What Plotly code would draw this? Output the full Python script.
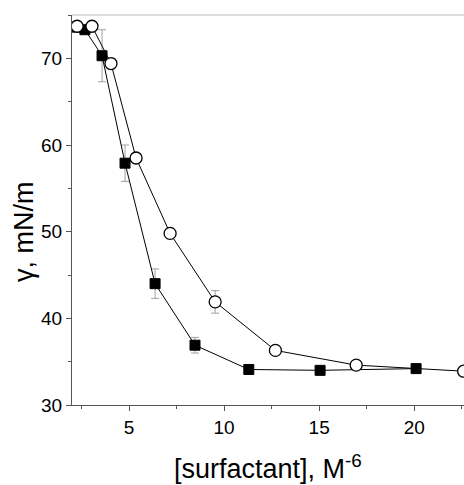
import plotly.graph_objects as go

# Filled squares series
sq_x = [2.16, 2.68, 3.58, 4.79, 6.37, 8.47, 11.3, 15.05, 20.1]
sq_y = [73.6, 73.3, 70.3, 57.9, 44.0, 36.9, 34.1, 34.0, 34.2]
sq_err = [0.3, 0.3, 3.0, 2.1, 1.7, 0.9, 0.3, 0.3, 0.3]

# Open circles series
ci_x = [2.27, 3.05, 4.05, 5.37, 7.16, 9.53, 12.7, 16.95, 22.6]
ci_y = [73.7, 73.7, 69.4, 58.5, 49.8, 41.9, 36.3, 34.6, 33.9]
ci_err = [0.4, 0.3, 0.6, 0.3, 0.6, 1.3, 0.3, 0.4, 0.4]

x_ticks = [5, 10, 15, 20]
y_ticks = [30, 40, 50, 60, 70]

FONT = "Liberation Sans, Arial, sans-serif"

fig = go.Figure()
fig.add_trace(go.Scatter(
    x=sq_x, y=sq_y, mode="lines+markers",
    line=dict(color="black", width=1),
    marker=dict(symbol="square", size=10, color="black", line=dict(color="black", width=1)),
    error_y=dict(type="data", array=sq_err, color="#a0a0a0", thickness=1, width=4),
    cliponaxis=True, showlegend=False,
))
fig.add_trace(go.Scatter(
    x=ci_x, y=ci_y, mode="lines+markers",
    line=dict(color="black", width=1),
    marker=dict(symbol="circle", size=12, color="white", line=dict(color="black", width=1.3)),
    error_y=dict(type="data", array=ci_err, color="#a0a0a0", thickness=1, width=4),
    cliponaxis=True, showlegend=False,
))

fig.update_xaxes(
    range=[2.0, 22.62], tickvals=x_ticks, ticks="outside", ticklen=5, tickwidth=1,
    tickcolor="#555", showline=True, linecolor="#555", linewidth=1, showgrid=False,
    zeroline=False, tickfont=dict(family=FONT, size=19, color="black"),
    minor=dict(dtick=2.5, tick0=0, ticks="outside", ticklen=3, tickcolor="#555"),
    mirror=False,
)
fig.update_yaxes(
    range=[30, 75], tickvals=y_ticks, ticks="outside", ticklen=5, tickwidth=1,
    tickcolor="#555", showline=True, linecolor="#555", linewidth=1, showgrid=False,
    zeroline=False, tickfont=dict(family=FONT, size=19, color="black"),
    minor=dict(dtick=5, tick0=0, ticks="outside", ticklen=3, tickcolor="#555"),
)

# top border line
fig.add_shape(type="line", xref="paper", yref="paper", x0=0, x1=1, y0=1, y1=1,
              line=dict(color="#d0d0d0", width=1.5))

fig.add_annotation(text="[surfactant], M<sup>-6</sup>", xref="paper", yref="paper",
                   x=0.5, y=-0.16, xanchor="center", yanchor="middle", showarrow=False,
                   font=dict(family=FONT, size=27, color="black"))
fig.add_annotation(text="γ, mN/m", xref="paper", yref="paper",
                   x=-0.122, y=0.444, xanchor="center", yanchor="middle", showarrow=False,
                   textangle=-90, font=dict(family=FONT, size=27, color="black"))

fig.update_layout(
    width=464, height=485,
    margin=dict(l=72, r=0, t=15, b=80),
    paper_bgcolor="white", plot_bgcolor="white",
)

fig.write_html("out.html")
